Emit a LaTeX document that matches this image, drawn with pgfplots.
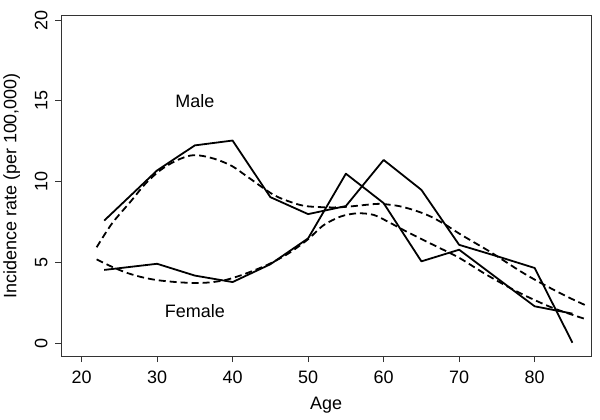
\documentclass[border=0pt]{standalone}
\usepackage{fontspec}
\setmainfont{Liberation Sans}
\usepackage{pgfplots}
\pgfplotsset{compat=1.18}

\begin{document}
\begin{tikzpicture}
\begin{axis}[
    at={(0pt,0pt)}, anchor=south west,
    scale only axis,
    width=531pt, height=341pt,
    xmin=17.3, xmax=87.5,
    ymin=-0.78, ymax=20.27,
    xtick={20,30,...,80},
    ytick={0,5,...,20},
    tick pos=left,
    tick align=outside,
    major tick length=6pt,
    tick style={line width=0.9pt, black!80},
    axis line style={line width=1.1pt, black!80},
    font=\fontsize{18}{20}\selectfont,
    /pgf/number format/assume math mode=true,
    xticklabel style={yshift=-5pt},
    yticklabel style={xshift=-4pt, rotate=90, anchor=south},
    xlabel={Age},
    ylabel={Incidence rate (per 100,000)},
    xlabel style={yshift=-7pt},
    ylabel style={yshift=8pt},
    clip=false,
]
% observed rates, male
\addplot[black, line width=1.8pt, line join=round] coordinates {
(23,7.6) (30,10.7) (35,12.25) (40,12.55) (45,9.05) (50,8.0) (55,8.5)
(60,11.35) (65,9.5) (70,6.1) (75,5.4) (80,4.67) (85,0.05)
};
% observed rates, female
\addplot[black, line width=1.8pt, line join=round] coordinates {
(23,4.55) (30,4.93) (35,4.2) (40,3.8) (45,4.9) (50,6.5) (55,10.5)
(60,8.68) (65,5.08) (70,5.8) (75,4.05) (80,2.3) (85,1.85)
};
% fitted, male
\addplot[black, line width=1.8pt, dash pattern=on 7pt off 4pt, smooth] coordinates {
(22,5.95) (24,7.4) (26.5,8.78) (28.5,9.9) (30.5,10.74) (32.5,11.3) (34.4,11.62)
(36,11.6) (38,11.36) (40,10.95) (42,10.3) (45.4,9.2) (48,8.7) (50,8.48)
(54,8.42) (58.7,8.62) (60,8.62) (62,8.5) (64,8.25) (66,7.9) (68,7.4)
(70,6.8) (72,6.25) (74,5.7) (76,5.1) (78,4.5) (80,3.95) (82.4,3.35)
(84.5,2.85) (86.8,2.35)
};
% fitted, female
\addplot[black, line width=1.8pt, dash pattern=on 7pt off 4pt, smooth] coordinates {
(22,5.2) (24,4.75) (26,4.37) (28,4.1) (30,3.92) (32.5,3.8) (35,3.74)
(37,3.78) (39,3.92) (41,4.2) (43,4.55) (45,4.95) (47.5,5.6) (50,6.45)
(52,7.3) (54.3,7.85) (56.5,8.05) (58.7,7.95) (60.9,7.45) (62.5,7.05)
(64.4,6.6) (67,6.0) (70,5.3) (73.6,4.26) (78,3.13) (82.4,2.2) (86.8,1.5)
};
\node at (axis cs:35,15) {Male};
\node at (axis cs:35,2) {Female};
\end{axis}
\path[use as bounding box] (-60.3pt,-63.3pt) rectangle (539.7pt,356.7pt);
\end{tikzpicture}
\end{document}
